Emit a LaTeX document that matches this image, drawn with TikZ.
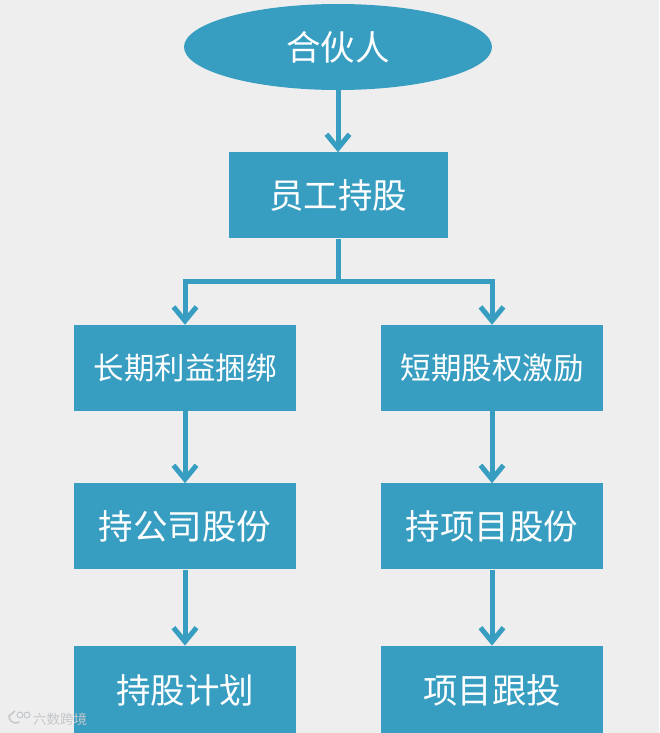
\documentclass[tikz,border=0pt]{standalone}
\usepackage{fontspec}
\setmainfont{Noto Sans CJK SC}
\usetikzlibrary{arrows.meta,positioning,shapes.geometric}
\definecolor{boxblue}{HTML}{379DC1}
\definecolor{pagegray}{HTML}{EEEEEE}
\definecolor{markgray}{HTML}{C4C7CA}
\tikzset{
  boxnode/.style={rectangle,fill=boxblue,text=white,inner sep=0pt,minimum width=222pt,minimum height=86pt,font=\fontsize{34.5}{36}\selectfont},
  topbox/.style={boxnode,minimum width=219pt},
  lastbox/.style={boxnode,minimum height=90pt},
  smalltext/.style={font=\fontsize{30.5}{32}\selectfont},
  conn/.style={draw=boxblue,line width=5pt},
  arr/.style={conn,-{Straight Barb[length=14pt,width=23pt,line width=5pt]}}
}
\begin{document}
\begin{tikzpicture}[x=1pt,y=1pt,node distance=62pt]
  \clip (0,0) rectangle (659,-733);
  \fill[pagegray] (0,0) rectangle (659,-733);

  \node[ellipse,fill=boxblue,text=white,inner sep=0pt,minimum width=308pt,minimum height=86pt,font=\fontsize{34.5}{36}\selectfont] (partner) at (338,-47) {合伙人};
  \node[topbox] (staff) [below=of partner] {员工持股};
  \coordinate (fork) at (338,-281);

  \node[boxnode,smalltext] (longterm) at (185,-368) {长期利益捆绑};
  \node[boxnode,smalltext] (shortterm) at (492,-368) {短期股权激励};
  \node[boxnode] (company) [below=72pt of longterm] {持公司股份};
  \node[boxnode] (project) [below=72pt of shortterm] {持项目股份};
  \node[lastbox] (plan) [below=76pt of company] {持股计划};
  \node[lastbox] (follow) [below=76pt of project] {项目跟投};

  \path[arr] (partner) edge (staff)
             (longterm) edge (company)
             (shortterm) edge (project)
             (company) edge (plan)
             (project) edge (follow);
  \draw[conn] (staff) -- (fork);
  \draw[arr] (fork) -| (longterm);
  \draw[arr] (fork) -| (shortterm);

  % watermark
  \draw[markgray,line width=1.5pt] (15,-711) -- (9,-716) arc (180:300:7);
  \draw[markgray,line width=1pt] (20,-715) circle (3);
  \draw[markgray,line width=1pt] (27,-715) circle (3);
  \node[text=markgray,inner sep=0pt,font=\fontsize{13.5}{14}\selectfont] (mark) at (60,-719) {六数跨境};
\end{tikzpicture}
\end{document}
